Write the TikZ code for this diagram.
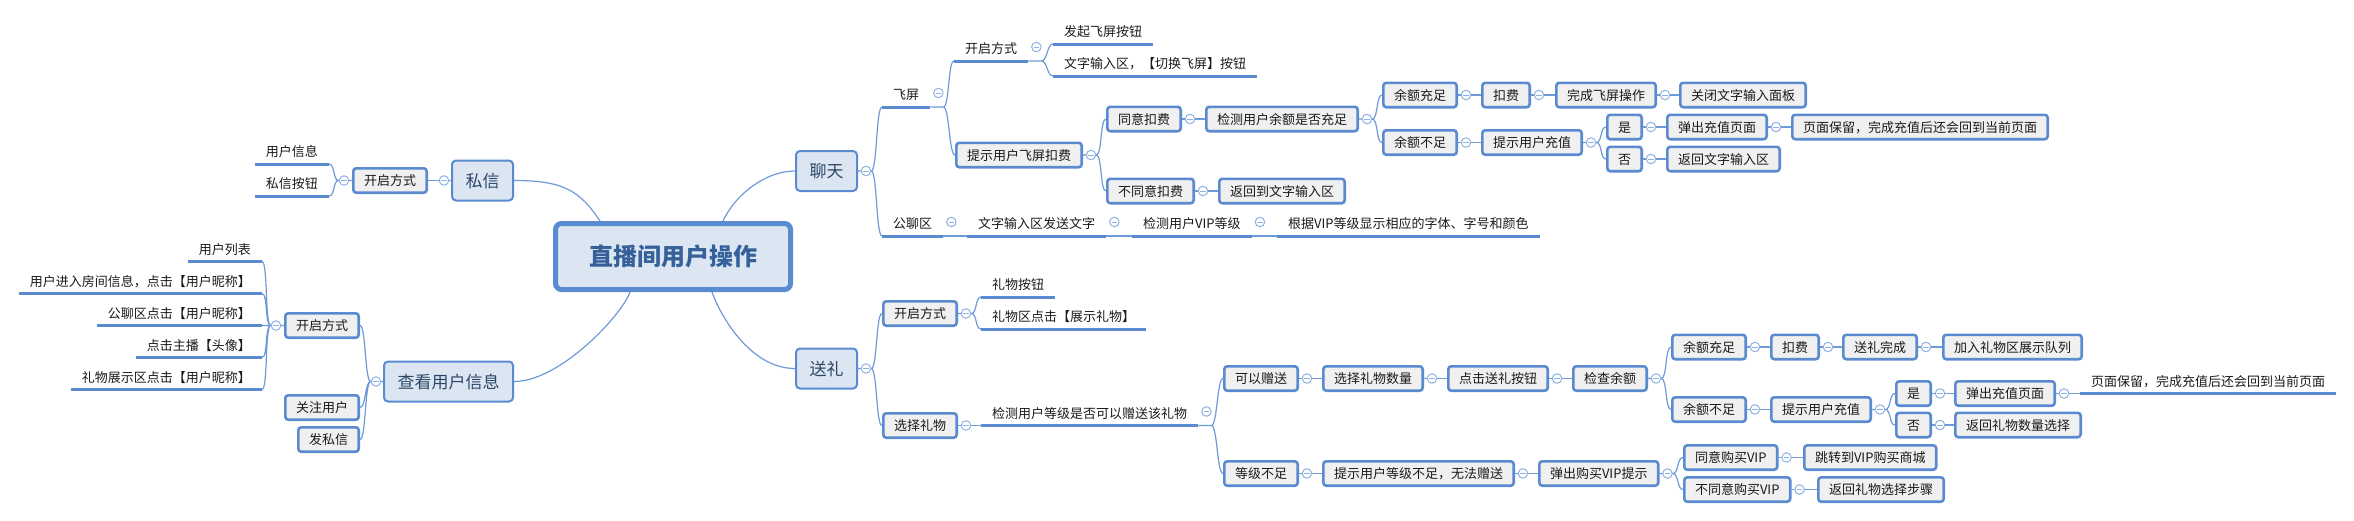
\documentclass[tikz,border=0pt]{standalone}
\usepackage{fontspec}
\setmainfont{Noto Sans CJK SC}
\usetikzlibrary{backgrounds}
\definecolor{MapBlue}{HTML}{5A8AD0}
\definecolor{MapLine}{HTML}{6E9AD8}
\definecolor{MapFold}{HTML}{8FB2E3}
\definecolor{MapGray}{HTML}{F0F0F0}
\definecolor{MapPale}{HTML}{DCE6F2}
\definecolor{MapInk}{HTML}{1A1A1A}
\definecolor{MapNavy}{HTML}{2C4766}
\definecolor{MapRoot}{HTML}{36609A}

\begin{document}
\begin{tikzpicture}[
  x=1pt,
  y=-1pt,
  font=\fontsize{13}{15}\selectfont,
  box/.style={
    draw=MapBlue,
    fill=MapGray,
    line width=2.6pt,
    rounded corners=3pt,
    inner xsep=10.7pt,
    inner ysep=0pt,
    minimum height=24.4pt,
    text height=11pt,
    text depth=1pt,
    text=MapInk
  },
  topic/.style={box, fill=MapPale, line width=2pt, rounded corners=4pt, inner xsep=13.5pt, minimum height=40pt, text height=14.5pt, text depth=1.5pt, font=\fontsize{17}{20}\selectfont, text=MapNavy},
  rootbox/.style={box, fill=MapPale, line width=5pt, rounded corners=6pt, minimum width=235pt, minimum height=66pt, text height=20pt, text depth=2pt, font=\fontsize{24}{28}\selectfont\bfseries, text=MapRoot},
  uline/.style={draw=MapBlue, line width=3pt},
  leaf/.style={inner xsep=11pt, inner ysep=6pt, text height=11pt, text depth=1pt, text=MapInk, append after command={(\tikzlastnode.south west) edge[uline] (\tikzlastnode.south east)}},
  fold/.style={circle, draw=MapFold, fill=white, line width=1pt, minimum size=9.5pt, inner sep=0pt,
    path picture={\draw[MapFold, line width=0.9pt] ([xshift=-2.6pt]path picture bounding box.center) -- ([xshift=2.6pt]path picture bounding box.center);}},
  link/.style={draw=MapLine, line width=1.2pt},
  rtree/.style={to path={-- ++(#1,0) .. controls +(6,0) and +(-6,0) .. (\tikztotarget)}},
  rtree/.default=0,
  ltree/.style={to path={-- ++(-#1,0) .. controls +(-6,0) and +(6,0) .. (\tikztotarget)}},
  ltree/.default=0
]
\useasboundingbox (0,0) rectangle (2354,520);

\node[rootbox] (root) at (673,256.5) {直播间用户操作};

\node[topic] (sixin) at (482.5,180.5) {私信};
\node[topic] (chakan) at (448.5,381.5) {查看用户信息};
\node[topic] (liaotian) at (826.5,171) {聊天};
\node[topic] (songli) at (826.5,368.5) {送礼};

\node[box, anchor=east] (sxkq) at (428,180.5) {开启方式};
\node[leaf, anchor=south east] (sxyh) at (329,164) {用户信息};
\node[leaf, anchor=south east] (sxan) at (329,196) {私信按钮};

\node[box, anchor=east] (ckkq) at (360,325.5) {开启方式};
\node[box, anchor=east] (ckgz) at (360,407.5) {关注用户};
\node[box, anchor=east] (ckfs) at (360,439.5) {发私信};
\node[leaf, anchor=south east] (cklb) at (262,261.5) {用户列表};
\node[leaf, anchor=south east] (ckjr) at (262,293.5) {用户进入房间信息，点击【用户昵称】};
\node[leaf, anchor=south east] (ckgl) at (262,325.5) {公聊区点击【用户昵称】};
\node[leaf, anchor=south east] (ckzb) at (262,357.5) {点击主播【头像】};
\node[leaf, anchor=south east] (cklw) at (262,389.5) {礼物展示区点击【用户昵称】};

\node[leaf, anchor=south west] (fp) at (882,107) {飞屏};
\node[leaf, anchor=south west] (ltkq) at (954,61) {开启方式};
\node[leaf, anchor=south west] (fqan) at (1053,44) {发起飞屏按钮};
\node[leaf, anchor=south west] (qhfp) at (1053,76) {文字输入区，【切换飞屏】按钮};
\node[box, anchor=west] (tsfp) at (955,155) {提示用户飞屏扣费};
\node[box, anchor=west] (tykf) at (1106,119) {同意扣费};
\node[box, anchor=west] (btykf) at (1106,191) {不同意扣费};
\node[box, anchor=west] (jcye) at (1205,119) {检测用户余额是否充足};
\node[box, anchor=west] (fhwz) at (1218,191) {返回到文字输入区};
\node[box, anchor=west] (yecz) at (1382,95) {余额充足};
\node[box, anchor=west] (yebz) at (1382,142.5) {余额不足};
\node[box, anchor=west] (kf) at (1481,95) {扣费};
\node[box, anchor=west] (wcfp) at (1555,95) {完成飞屏操作};
\node[box, anchor=west] (gbmb) at (1679,95) {关闭文字输入面板};
\node[box, anchor=west] (tscz) at (1481,142.5) {提示用户充值};
\node[box, anchor=west] (shi) at (1606,127) {是};
\node[box, anchor=west] (fou) at (1606,159) {否};
\node[box, anchor=west] (tccz) at (1666,127) {弹出充值页面};
\node[box, anchor=west] (ymbl) at (1791,127) {页面保留，完成充值后还会回到当前页面};
\node[box, anchor=west] (fhsr) at (1666,159) {返回文字输入区};
\node[leaf, anchor=south west] (glq) at (882,236) {公聊区};
\node[leaf, anchor=south west] (wzfs) at (967,236) {文字输入区发送文字};
\node[leaf, anchor=south west] (jcvip) at (1132,236) {检测用户VIP等级};
\node[leaf, anchor=south west] (xszt) at (1277,236) {根据VIP等级显示相应的字体、字号和颜色};

\node[box, anchor=west] (lkq) at (882,313.5) {开启方式};
\node[box, anchor=west] (xzlw) at (882,425.5) {选择礼物};
\node[leaf, anchor=south west] (lwan) at (981,297) {礼物按钮};
\node[leaf, anchor=south west] (lwqd) at (981,329) {礼物区点击【展示礼物】};
\node[leaf, anchor=south west] (jcdj) at (981,425.5) {检测用户等级是否可以赠送该礼物};
\node[box, anchor=west] (kyzs) at (1223,378.5) {可以赠送};
\node[box, anchor=west] (djbz) at (1223,473.5) {等级不足};
\node[box, anchor=west] (xzsl) at (1322,378.5) {选择礼物数量};
\node[box, anchor=west] (djsl) at (1447,378.5) {点击送礼按钮};
\node[box, anchor=west] (jcye2) at (1572,378.5) {检查余额};
\node[box, anchor=west] (yecz2) at (1671,347) {余额充足};
\node[box, anchor=west] (yebz2) at (1671,409.5) {余额不足};
\node[box, anchor=west] (kf2) at (1770,347) {扣费};
\node[box, anchor=west] (slwc) at (1842,347) {送礼完成};
\node[box, anchor=west] (jrdl) at (1942,347) {加入礼物区展示队列};
\node[box, anchor=west] (tscz2) at (1770,409.5) {提示用户充值};
\node[box, anchor=west] (shi2) at (1895,393.5) {是};
\node[box, anchor=west] (fou2) at (1895,425) {否};
\node[box, anchor=west] (tccz2) at (1954,393.5) {弹出充值页面};
\node[leaf, anchor=south west] (ymbl2) at (2080,393.5) {页面保留，完成充值后还会回到当前页面};
\node[box, anchor=west] (fhsl) at (1954,425) {返回礼物数量选择};
\node[box, anchor=west] (tsdj) at (1322,473.5) {提示用户等级不足，无法赠送};
\node[box, anchor=west] (tcvip) at (1538,473.5) {弹出购买VIP提示};
\node[box, anchor=west] (tygm) at (1683,457.5) {同意购买VIP};
\node[box, anchor=west] (btygm) at (1683,489.5) {不同意购买VIP};
\node[box, anchor=west] (tzsc) at (1803,457.5) {跳转到VIP购买商城};
\node[box, anchor=west] (fhbz) at (1817,489.5) {返回礼物选择步骤};

\node[fold] (fsx) at ([xshift=-7pt]sixin.west) {};
\node[fold] (fsxkq) at ([xshift=-8pt]sxkq.west) {};
\node[fold] (fck) at ([xshift=-7pt]chakan.west) {};
\node[fold] (fckkq) at ([xshift=-8pt]ckkq.west) {};
\node[fold] (flt) at ([xshift=8pt]liaotian.east) {};
\node[fold] (ffp) at ([xshift=8pt,yshift=14pt]fp.south east) {};
\node[fold] (fltkq) at ([xshift=8pt,yshift=14pt]ltkq.south east) {};
\node[fold] (ftsfp) at ([xshift=8pt]tsfp.east) {};
\node[fold] (ftykf) at ([xshift=8pt]tykf.east) {};
\node[fold] (fbtykf) at ([xshift=8pt]btykf.east) {};
\node[fold] (fjcye) at ([xshift=8pt]jcye.east) {};
\node[fold] (fyecz) at ([xshift=8pt]yecz.east) {};
\node[fold] (fyebz) at ([xshift=8pt]yebz.east) {};
\node[fold] (fkf) at ([xshift=8pt]kf.east) {};
\node[fold] (fwcfp) at ([xshift=8pt]wcfp.east) {};
\node[fold] (ftscz) at ([xshift=8pt]tscz.east) {};
\node[fold] (fshi) at ([xshift=8pt]shi.east) {};
\node[fold] (ffou) at ([xshift=8pt]fou.east) {};
\node[fold] (ftccz) at ([xshift=8pt]tccz.east) {};
\node[fold] (fglq) at ([xshift=8pt,yshift=14pt]glq.south east) {};
\node[fold] (fwzfs) at ([xshift=8pt,yshift=14pt]wzfs.south east) {};
\node[fold] (fjcvip) at ([xshift=8pt,yshift=14pt]jcvip.south east) {};
\node[fold] (fsl) at ([xshift=8pt]songli.east) {};
\node[fold] (flkq) at ([xshift=8pt]lkq.east) {};
\node[fold] (fxzlw) at ([xshift=8pt]xzlw.east) {};
\node[fold] (fjcdj) at ([xshift=8pt,yshift=14pt]jcdj.south east) {};
\node[fold] (fkyzs) at ([xshift=8pt]kyzs.east) {};
\node[fold] (fxzsl) at ([xshift=8pt]xzsl.east) {};
\node[fold] (fdjsl) at ([xshift=8pt]djsl.east) {};
\node[fold] (fjcye2) at ([xshift=8pt]jcye2.east) {};
\node[fold] (fyecz2) at ([xshift=8pt]yecz2.east) {};
\node[fold] (fyebz2) at ([xshift=8pt]yebz2.east) {};
\node[fold] (fkf2) at ([xshift=8pt]kf2.east) {};
\node[fold] (fslwc) at ([xshift=8pt]slwc.east) {};
\node[fold] (ftscz2) at ([xshift=8pt]tscz2.east) {};
\node[fold] (fshi2) at ([xshift=8pt]shi2.east) {};
\node[fold] (ffou2) at ([xshift=8pt]fou2.east) {};
\node[fold] (ftccz2) at ([xshift=8pt]tccz2.east) {};
\node[fold] (fdjbz) at ([xshift=8pt]djbz.east) {};
\node[fold] (ftsdj) at ([xshift=8pt]tsdj.east) {};
\node[fold] (ftcvip) at ([xshift=8pt]tcvip.east) {};
\node[fold] (ftygm) at ([xshift=8pt]tygm.east) {};
\node[fold] (fbtygm) at ([xshift=8pt]btygm.east) {};

\begin{scope}[on background layer]
\draw[link] ([xshift=-73pt]root.north) .. controls +(-20,-30) and +(50,0) .. (sixin.east);
\draw[link] ([xshift=50pt]root.north) .. controls +(12,-26) and +(-30,0) .. (liaotian.west);
\draw[link] ([xshift=-43pt]root.south) .. controls +(-8,23) and +(46,0) .. (chakan.east);
\draw[link] ([xshift=39pt]root.south) .. controls +(8,23) and +(-45,0) .. (songli.west);

\draw[link] (sixin) -- (sxkq);
\draw[link] (sxkq.west) -- (fsxkq.west) to[ltree] (sxyh.south east) (fsxkq.west) to[ltree] (sxan.south east);
\draw[link] (chakan.west) -- (fck.west) to[ltree] (ckkq.east) (fck.west) to[ltree] (ckgz.east) (fck.west) to[ltree] (ckfs.east);
\draw[link] (ckkq.west) -- (fckkq.west) to[ltree] (cklb.south east) (fckkq.west) to[ltree] (ckjr.south east)
  (fckkq.west) to[ltree] (ckgl.south east) (fckkq.west) to[ltree] (ckzb.south east) (fckkq.west) to[ltree] (cklw.south east);

\draw[link] (liaotian.east) -- (flt.east) to[rtree] (fp.south west) (flt.east) to[rtree] (glq.south west);
\draw[link] (fp.south east) to[rtree=13] (ltkq.south west) (fp.south east) to[rtree=13] (tsfp.west);
\draw[link] (ltkq.south east) to[rtree=13] (fqan.south west) (ltkq.south east) to[rtree=13] (qhfp.south west);
\draw[link] (tsfp.east) -- (ftsfp.east) to[rtree] (tykf.west) (ftsfp.east) to[rtree] (btykf.west);
\draw[link] (tykf) -- (jcye);
\draw[link] (btykf) -- (fhwz);
\draw[link] (jcye.east) -- (fjcye.east) to[rtree] (yecz.west) (fjcye.east) to[rtree] (yebz.west);
\draw[link] (yecz) -- (kf) -- (wcfp) -- (gbmb);
\draw[link] (yebz) -- (tscz);
\draw[link] (tscz.east) -- (ftscz.east) to[rtree] (shi.west) (ftscz.east) to[rtree] (fou.west);
\draw[link] (shi) -- (tccz) -- (ymbl);
\draw[link] (fou) -- (fhsr);
\draw[link] (glq.south east) -- (wzfs.south west) (wzfs.south east) -- (jcvip.south west) (jcvip.south east) -- (xszt.south west);

\draw[link] (songli.east) -- (fsl.east) to[rtree] (lkq.west) (fsl.east) to[rtree] (xzlw.west);
\draw[link] (lkq.east) -- (flkq.east) to[rtree] (lwan.south west) (flkq.east) to[rtree] (lwqd.south west);
\draw[link] (xzlw.east) -- (jcdj.south west);
\draw[link] (jcdj.south east) to[rtree=13] (kyzs.west) (jcdj.south east) to[rtree=13] (djbz.west);
\draw[link] (kyzs) -- (xzsl) -- (djsl) -- (jcye2);
\draw[link] (jcye2.east) -- (fjcye2.east) to[rtree] (yecz2.west) (fjcye2.east) to[rtree] (yebz2.west);
\draw[link] (yecz2) -- (kf2) -- (slwc) -- (jrdl);
\draw[link] (yebz2) -- (tscz2);
\draw[link] (tscz2.east) -- (ftscz2.east) to[rtree] (shi2.west) (ftscz2.east) to[rtree] (fou2.west);
\draw[link] (shi2) -- (tccz2);
\draw[link] (tccz2.east) -- (ymbl2.south west);
\draw[link] (fou2) -- (fhsl);
\draw[link] (djbz) -- (tsdj) -- (tcvip);
\draw[link] (tcvip.east) -- (ftcvip.east) to[rtree] (tygm.west) (ftcvip.east) to[rtree] (btygm.west);
\draw[link] (tygm) -- (tzsc);
\draw[link] (btygm) -- (fhbz);
\end{scope}
\end{tikzpicture}
\end{document}
